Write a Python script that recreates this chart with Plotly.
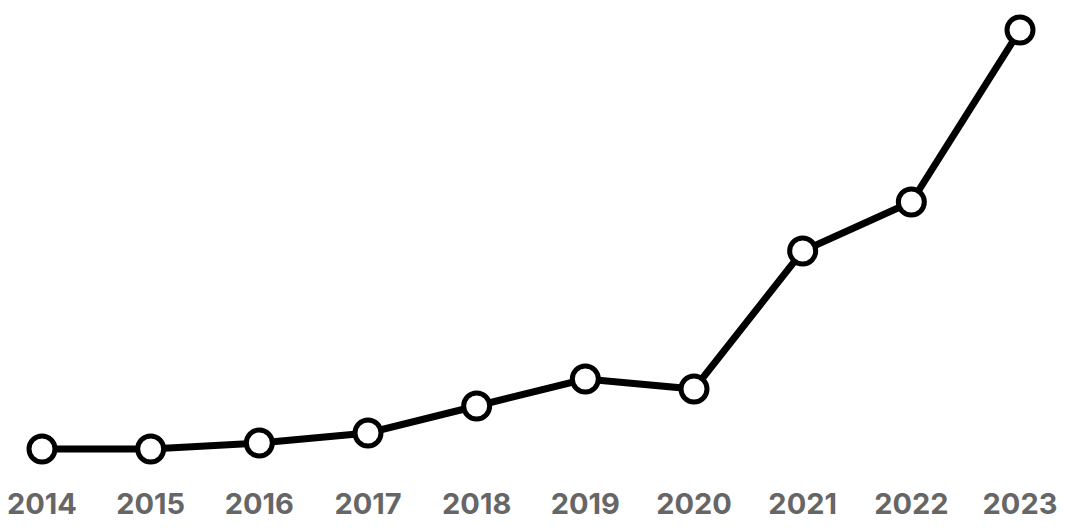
import plotly.graph_objects as go

years = [2014, 2015, 2016, 2017, 2018, 2019, 2020, 2021, 2022, 2023]
values = [11, 11, 17, 27, 54, 81, 71, 209, 258, 430]
tick_labels = [str(y) for y in years]

fig = go.Figure(go.Scatter(
    x=years, y=values, mode="lines+markers",
    line=dict(color="black", width=7),
    marker=dict(size=26, color="white", line=dict(color="black", width=5)),
    cliponaxis=False,
))
fig.update_layout(
    width=1057, height=524,
    paper_bgcolor="white", plot_bgcolor="white",
    margin=dict(l=34, r=45, t=2, b=63),
    showlegend=False,
    font=dict(family="Inter", size=29, color="#666666"),
)
fig.update_xaxes(
    range=[2014, 2023], tickvals=years, ticktext=tick_labels,
    showgrid=False, zeroline=False, showline=False, automargin=False,
    tickfont=dict(family="Inter", size=29, color="#666666", weight="bold"),
    ticklabelstandoff=15, ticklabeloverflow="allow",
)
fig.update_yaxes(range=[-9, 450], visible=False, showgrid=False, zeroline=False, automargin=False)
fig.write_html("out.html")
